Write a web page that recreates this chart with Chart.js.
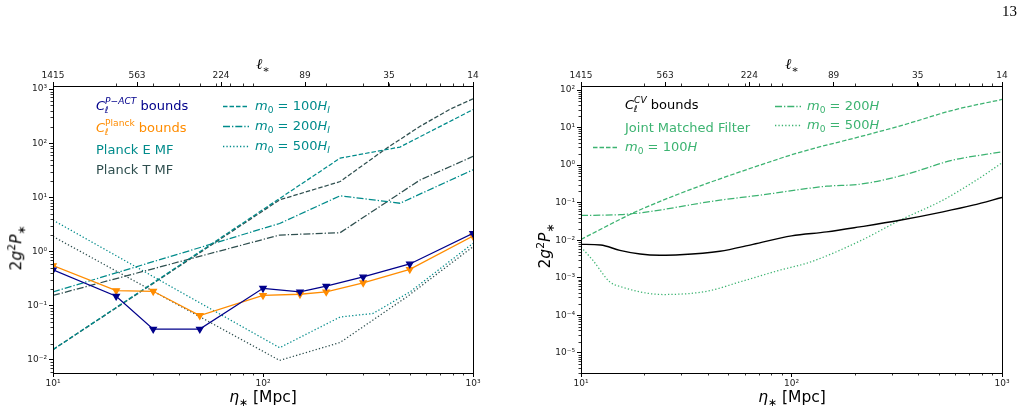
<!DOCTYPE html>
<html>
<head>
<meta charset="utf-8">
<script src="https://cdn.jsdelivr.net/npm/chart.js@4.4.1/dist/chart.umd.min.js"></script>
<style>
  body { margin: 0; background: #fff; width: 1022px; height: 412px; overflow: hidden; position: relative; }
  canvas { position: absolute; top: 0; }
  .lab { position: absolute; font-family: 'DejaVu Sans', sans-serif; white-space: nowrap; line-height: 1; transform: translateY(-50%); }
  .lg { font-size: 13px; }
  .ss { display: inline-block; font-size: 0.7em; line-height: 1; vertical-align: -0.3em; }
  .ss span { display: block; }
  sub, sup { font-size: 0.7em; line-height: 0; }
  .h { display: inline-block; vertical-align: middle; margin-right: 6px; }
  .ax { font-size: 15.5px; }
  .rot { transform: translate(-50%, -50%) rotate(-90deg); }
  .ell { font-family: 'DejaVu Serif', serif; font-style: italic; font-size: 15px; transform: translate(-50%, -50%); }
</style>
</head>
<body>
<canvas id="left" width="511" height="412" style="left:0"></canvas>
<canvas id="right" width="511" height="412" style="left:511px"></canvas>

<div class="lab" style="left:1002px;top:11px;font-family:'Liberation Serif',serif;font-size:15px">13</div>

<!-- axis titles -->
<div class="lab ell" style="left:263px;top:64px">ℓ<sub style="font-style:normal">∗</sub></div>
<div class="lab ell" style="left:792px;top:64px">ℓ<sub style="font-style:normal">∗</sub></div>
<div class="lab ax" style="left:263px;top:398px;transform:translate(-50%,-50%)"><i>η</i><sub>∗</sub> [Mpc]</div>
<div class="lab ax" style="left:792px;top:398px;transform:translate(-50%,-50%)"><i>η</i><sub>∗</sub> [Mpc]</div>
<div class="lab ax rot" style="left:17px;top:248px">2<i>g</i><sup>2</sup><i>P</i><sub>∗</sub></div>
<div class="lab ax rot" style="left:546px;top:246px">2<i>g</i><sup>2</sup><i>P</i><sub>∗</sub></div>

<!-- left legend -->
<div class="lab lg" style="left:96px;top:106px;color:darkblue"><i>C</i><span class="ss"><span><i>P</i>−<i>ACT</i></span><span><i>ℓ</i></span></span> bounds</div>
<div class="lab lg" style="left:96px;top:128px;color:darkorange"><i>C</i><span class="ss"><span>Planck</span><span><i>ℓ</i></span></span> bounds</div>
<div class="lab lg" style="left:96px;top:149px;color:darkcyan">Planck E MF</div>
<div class="lab lg" style="left:96px;top:169px;color:darkslategray">Planck T MF</div>
<div class="lab lg" style="left:223px;top:105px;color:darkcyan"><svg class="h" width="26" height="6"><line x1="0" y1="3" x2="26" y2="3" stroke="darkcyan" stroke-width="1.3" stroke-dasharray="4.5 2"/></svg><i>m</i><sub>0</sub> = 100<i>H</i><sub><i>I</i></sub></div>
<div class="lab lg" style="left:223px;top:125px;color:darkcyan"><svg class="h" width="26" height="6"><line x1="0" y1="3" x2="26" y2="3" stroke="darkcyan" stroke-width="1.3" stroke-dasharray="7 2 1.3 2"/></svg><i>m</i><sub>0</sub> = 200<i>H</i><sub><i>I</i></sub></div>
<div class="lab lg" style="left:223px;top:145px;color:darkcyan"><svg class="h" width="26" height="6"><line x1="0" y1="3" x2="26" y2="3" stroke="darkcyan" stroke-width="1.3" stroke-dasharray="1.3 2.1"/></svg><i>m</i><sub>0</sub> = 500<i>H</i><sub><i>I</i></sub></div>

<!-- right legend -->
<div class="lab lg" style="left:625px;top:105px;color:#000"><i>C</i><span class="ss"><span><i>CV</i></span><span><i>ℓ</i></span></span> bounds</div>
<div class="lab lg" style="left:625px;top:127px;color:mediumseagreen">Joint Matched Filter</div>
<div class="lab lg" style="left:593px;top:146px;color:mediumseagreen"><svg class="h" width="26" height="6"><line x1="0" y1="3" x2="26" y2="3" stroke="mediumseagreen" stroke-width="1.3" stroke-dasharray="4.5 2"/></svg><i>m</i><sub>0</sub> = 100<i>H</i></div>
<div class="lab lg" style="left:775px;top:105px;color:mediumseagreen"><svg class="h" width="26" height="6"><line x1="0" y1="3" x2="26" y2="3" stroke="mediumseagreen" stroke-width="1.3" stroke-dasharray="7 2 1.3 2"/></svg><i>m</i><sub>0</sub> = 200<i>H</i></div>
<div class="lab lg" style="left:775px;top:124px;color:mediumseagreen"><svg class="h" width="26" height="6"><line x1="0" y1="3" x2="26" y2="3" stroke="mediumseagreen" stroke-width="1.3" stroke-dasharray="1.3 2.1"/></svg><i>m</i><sub>0</sub> = 500<i>H</i></div>

<script>
// tick positions and labels
const etaMajor = [10, 100, 1000];
const ellEta = [10, 25.12, 63.1, 158.5, 398.1, 1000];
const ellLabels = ['1415', '563', '224', '89', '35', '14'];
const yMajorLeft = [1e-2, 1e-1, 1, 10, 100, 1000];
const yMajorRight = [1e-5, 1e-4, 1e-3, 1e-2, 1e-1, 1, 10, 100];

// left panel: bounds
const etaBounds = [10, 20, 30, 50, 100, 150, 200, 300, 500, 1000];
const actBounds = [0.46, 0.15, 0.037, 0.037, 0.21, 0.18, 0.23, 0.34, 0.59, 2.17];
const planckBounds = [0.55, 0.19, 0.185, 0.066, 0.155, 0.163, 0.18, 0.265, 0.47, 1.94];

// left panel: Planck E / T matched filter
const etaE100 = [10, 233, 449, 1000];
const e100 = [0.0155, 53, 85, 417];
const etaT100 = [10, 120, 233, 388, 560, 777, 1000];
const t100 = [0.0155, 9.0, 19.6, 81, 205, 424, 660];
const etaE200 = [10, 120, 233, 449, 1000];
const e200 = [0.18, 3.3, 10.7, 7.8, 32.3];
const etaT200 = [10, 120, 233, 560, 1000];
const t200 = [0.155, 2.02, 2.23, 21, 57];
const etaE500 = [10, 120, 233, 334, 501, 1000];
const e500 = [3.8, 0.0168, 0.062, 0.072, 0.18, 1.42];
const etaT500 = [10, 120, 233, 483, 1000];
const t500 = [1.9, 0.0098, 0.021, 0.145, 1.23];

// right panel
const etaCV = [10, 12.4, 15.3, 19.1, 23.7, 29.5, 45.7, 65.6, 100, 147, 211, 327, 524, 728, 1000];
const cvBounds = [0.0078, 0.0075, 0.0054, 0.0043, 0.0040, 0.0041, 0.0051, 0.0078, 0.0131, 0.0167, 0.0227, 0.034, 0.057, 0.086, 0.138];
const etaJ100 = [10, 19.7, 88, 122, 211, 339, 585, 1000];
const j100 = [0.0106, 0.07, 1.5, 2.6, 5.7, 11.7, 29, 56];
const etaJ200 = [10, 15.3, 45.7, 70.7, 147, 211, 339, 585, 1000];
const j200 = [0.046, 0.048, 0.117, 0.158, 0.275, 0.31, 0.54, 1.36, 2.26];
const etaJ500 = [10, 11.4, 13.7, 15.3, 24.5, 39.7, 56.9, 88, 122, 211, 327, 524, 756, 1000];
const j500 = [0.0066, 0.0029, 0.00078, 0.00059, 0.00036, 0.00044, 0.00078, 0.0016, 0.0026, 0.0095, 0.034, 0.117, 0.4, 1.15];

const DASH = [4.5, 2], DASHDOT = [7, 2, 1.3, 2], DOT = [1.3, 2.1];
const supMap = { '-': '⁻', '0': '⁰', '1': '¹', '2': '²', '3': '³', '4': '⁴', '5': '⁵', '6': '⁶' };
const sci = v => '10' + String(Math.round(Math.log10(v))).split('').map(c => supMap[c]).join('');
const pts = (xs, ys) => xs.map((x, i) => ({ x: x, y: ys[i] }));

const line = (xs, ys, color, dash, width, smooth) => ({
    data: pts(xs, ys),
    borderColor: color,
    borderWidth: width || 1.25,
    borderDash: dash || [],
    pointRadius: 0,
    fill: false,
    cubicInterpolationMode: smooth ? 'monotone' : 'default'
});

const bounds = (xs, ys, color) => ({
    data: pts(xs, ys),
    borderColor: color,
    backgroundColor: color,
    borderWidth: 1.3,
    pointStyle: 'triangle',
    rotation: 180,
    pointRadius: 3.6,
    fill: false
});

// minor log ticks + box frame
const frame = {
    id: 'frame',
    afterDraw(chart) {
        const ctx = chart.ctx, a = chart.chartArea;
        ctx.save();
        ctx.strokeStyle = '#000';
        ctx.lineWidth = 0.8;
        ['x', 'x2', 'y'].forEach(id => {
            const s = chart.scales[id];
            for (let d = Math.floor(Math.log10(s.min)); d <= Math.ceil(Math.log10(s.max)); d++) {
                for (let k = 2; k <= 9; k++) {
                    const v = k * Math.pow(10, d);
                    if (v < s.min || v > s.max) continue;
                    const p = Math.round(s.getPixelForValue(v)) + 0.5;
                    ctx.beginPath();
                    if (id === 'x') { ctx.moveTo(p, a.bottom); ctx.lineTo(p, a.bottom + 2.5); }
                    else if (id === 'x2') { ctx.moveTo(p, a.top); ctx.lineTo(p, a.top - 2.5); }
                    else { ctx.moveTo(a.left, p); ctx.lineTo(a.left - 2.5, p); }
                    ctx.stroke();
                }
            }
        });
        ctx.lineWidth = 1;
        ctx.strokeRect(Math.round(a.left) + 0.5, Math.round(a.top) + 0.5, Math.round(a.right - a.left), Math.round(a.bottom - a.top));
        ctx.restore();
    }
};

const tickFont = { family: 'DejaVu Sans', size: 9 };
const axisBase = {
    type: 'logarithmic',
    min: 10,
    max: 1000,
    grid: { drawOnChartArea: false, drawTicks: true, tickLength: 4, tickColor: '#000', tickWidth: 1 },
    border: { display: true, color: '#000', width: 1 }
};

function makeChart(id, yMin, yMax, yMajor, yWidth, padRight, datasets) {
    return new Chart(document.getElementById(id), {
        type: 'line',
        data: { datasets: datasets },
        plugins: [frame],
        options: {
            responsive: false,
            animation: false,
            layout: { padding: { left: 0, top: 0, right: padRight, bottom: 0 } },
            plugins: { legend: { display: false }, tooltip: { enabled: false } },
            scales: {
                x: Object.assign({}, axisBase, {
                    position: 'bottom',
                    afterBuildTicks: s => { s.ticks = etaMajor.map(v => ({ value: v })); },
                    afterFit: s => { s.height = 39; },
                    ticks: { callback: v => sci(v), font: tickFont, color: '#222', padding: 1, autoSkip: false, maxRotation: 0 }
                }),
                x2: Object.assign({}, axisBase, {
                    position: 'top',
                    afterBuildTicks: s => { s.ticks = ellEta.map(v => ({ value: v })); },
                    afterFit: s => { s.height = 86; },
                    ticks: { callback: (v, i) => ellLabels[i], font: tickFont, color: '#222', padding: 1, autoSkip: false, maxRotation: 0 }
                }),
                y: Object.assign({}, axisBase, {
                    position: 'left',
                    min: yMin,
                    max: yMax,
                    afterBuildTicks: s => { s.ticks = yMajor.map(v => ({ value: v })); },
                    afterFit: s => { s.width = yWidth; },
                    ticks: { callback: v => sci(v), font: tickFont, color: '#222', padding: 2, autoSkip: false }
                })
            }
        }
    });
}

window.addEventListener('DOMContentLoaded', () => {
    makeChart('left', 0.00574, 1137, yMajorLeft, 53, 38, [
        bounds(etaBounds, actBounds, 'darkblue'),
        bounds(etaBounds, planckBounds, 'darkorange'),
        line(etaE100, e100, 'darkcyan', DASH),
        line(etaT100, t100, 'darkslategray', DASH),
        line(etaE200, e200, 'darkcyan', DASHDOT),
        line(etaT200, t200, 'darkslategray', DASHDOT),
        line(etaE500, e500, 'darkcyan', DOT),
        line(etaT500, t500, 'darkslategray', DOT)
    ]);

    makeChart('right', 2.93e-6, 127.9, yMajorRight, 70, 20, [
        line(etaCV, cvBounds, '#000', [], 1.4, true),
        line(etaJ100, j100, 'mediumseagreen', DASH, 1.25, true),
        line(etaJ200, j200, 'mediumseagreen', DASHDOT, 1.25, true),
        line(etaJ500, j500, 'mediumseagreen', DOT, 1.25, true)
    ]);
});
</script>
</body>
</html>
